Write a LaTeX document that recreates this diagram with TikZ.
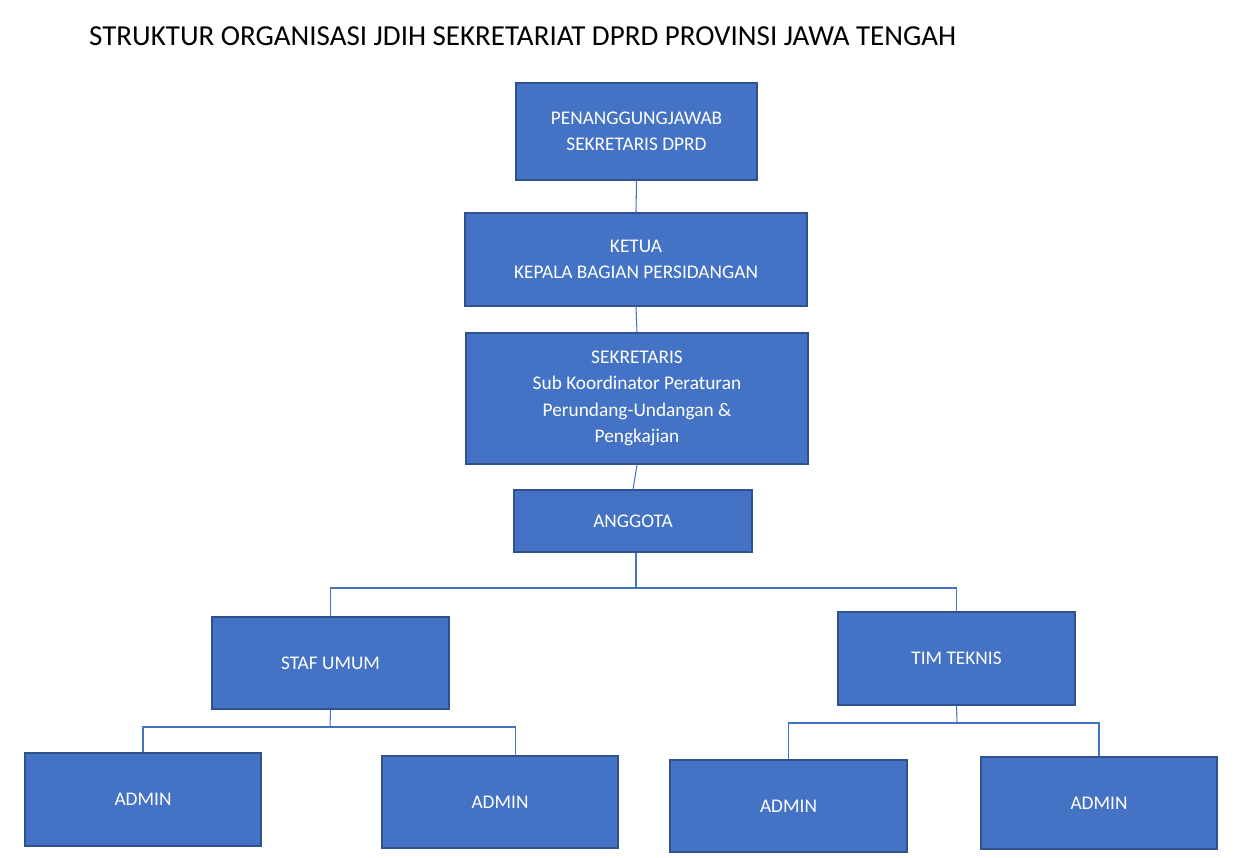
\documentclass[tikz,border=0pt]{standalone}
\usepackage{fontspec}
\setmainfont{Carlito}
\definecolor{boxblue}{HTML}{4472C4}
\definecolor{boxedge}{HTML}{2F528F}
\begin{document}
\begin{tikzpicture}[x=0.02cm,y=-0.02cm]
\tikzstyle{line} = [boxblue, line width=0.6pt]
\tikzstyle{box} = [rectangle, fill=boxblue, draw=boxedge, line width=0.8pt, text=white, align=center, font=\fontsize{11}{15}\selectfont, inner sep=0pt]
\useasboundingbox (0,0) rectangle (1240,858);
\node[anchor=west, font=\fontsize{16.5}{20}\selectfont](title) at (83,36){STRUKTUR ORGANISASI JDIH SEKRETARIAT DPRD PROVINSI JAWA TENGAH};
\node[box, minimum width=4.82cm, minimum height=1.94cm](pj) at (636.5,131.5){PENANGGUNGJAWAB\\SEKRETARIS DPRD};
\node[box, minimum width=6.84cm, minimum height=1.86cm](ketua) at (636,259.5){KETUA\\KEPALA BAGIAN PERSIDANGAN};
\node[box, minimum width=6.84cm, minimum height=2.62cm](sekr) at (637,398.5){SEKRETARIS\\Sub Koordinator Peraturan\\Perundang-Undangan \&\\Pengkajian};
\node[box, minimum width=4.76cm, minimum height=1.24cm](anggota) at (633,521){ANGGOTA};
\node[box, minimum width=4.74cm, minimum height=1.84cm](staf) at (330.5,663){STAF UMUM};
\node[box, minimum width=4.74cm, minimum height=1.86cm](tim) at (956.5,658.5){TIM TEKNIS};
\node[box, minimum width=4.72cm, minimum height=1.86cm](admin1) at (143,799.5){ADMIN};
\node[box, minimum width=4.72cm, minimum height=1.84cm](admin2) at (500,802){ADMIN};
\node[box, minimum width=4.74cm, minimum height=1.84cm](admin3) at (788.5,806){ADMIN};
\node[box, minimum width=4.72cm, minimum height=1.84cm](admin4) at (1099,803){ADMIN};
\coordinate (split1) at (636,588);
\coordinate (split2) at (330,727);
\coordinate (split3) at (957,723);
\draw[line] (pj.south)--(ketua.north);
\draw[line] (ketua.south)--(sekr.north);
\draw[line] (sekr.south)--(anggota.north);
\draw[line] (anggota.south-|split1)--(split1);
\draw[line] (split1)-|(staf.north);
\draw[line] (split1)-|(tim.north);
\draw[line] (staf.south)--(split2);
\draw[line] (split2)-|(admin1.north);
\draw[line] (split2)-|([xshift=9]admin2.north);
\draw[line] (tim.south)--(split3);
\draw[line] (split3)-|(admin3.north);
\draw[line] (split3)-|(admin4.north);
\end{tikzpicture}
\end{document}
